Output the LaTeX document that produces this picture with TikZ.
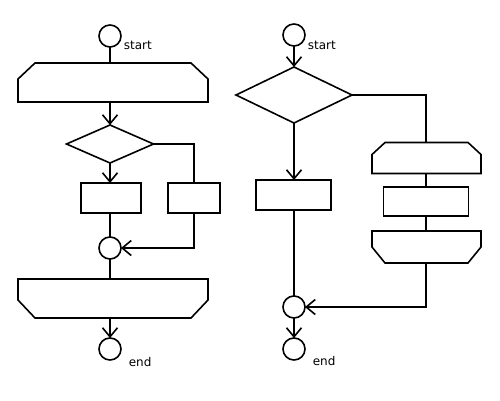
\documentclass[tikz,border=0pt]{standalone}
\usepackage{fontspec}
\setmainfont{DejaVu Sans}
\usetikzlibrary{arrows.meta,shapes.geometric}
\begin{document}
\begin{tikzpicture}[x=1pt,y=-1pt,
  every path/.style={line width=1.6pt},
  ln/.style={draw=black,line width=1.6pt},
  arr/.style={ln,-{Straight Barb[length=9pt,width=15pt]}},
  circ/.style={circle,draw,line width=1.6pt,minimum size=22pt,inner sep=0pt,outer sep=0pt},
  box/.style={rectangle,draw,line width=1.6pt,inner sep=0pt,outer sep=0pt},
  hexbox/.style={rectangle,draw=none,inner sep=0pt,outer sep=0pt},
  dia/.style={diamond,draw,line width=1.6pt,inner sep=0pt,outer sep=0pt},
  lbl/.style={font=\fontsize{12}{14}\selectfont,inner sep=0pt,anchor=base west}
]
\useasboundingbox (0,0) rectangle (500,400);

% ---- left flow ----
\node[circ] (Ls) at (110,36) {};
\node[lbl] (Lst) at (123,49) {start};
\node[hexbox,minimum width=190pt,minimum height=39pt] (Lloop) at (113,82.5) {};
\draw[ln] ([yshift=-16pt]Lloop.north west) -- ([xshift=17pt]Lloop.north west) -- ([xshift=-17pt]Lloop.north east) -- ([yshift=-16pt]Lloop.north east) -- (Lloop.south east) -- (Lloop.south west) -- cycle;
\node[dia,minimum width=87pt,minimum height=38pt,aspect=2.29] (Ld) at (110,144) {};
\node[box,minimum width=60pt,minimum height=30pt] (La) at (111,198) {};
\node[box,minimum width=52pt,minimum height=30pt] (Lb) at (194,198) {};
\node[circ] (Lm) at (110,248) {};
\node[hexbox,minimum width=190pt,minimum height=39pt] (Lend) at (113,298.5) {};
\draw[ln] (Lend.north west) -- (Lend.north east) -- ([yshift=18pt]Lend.south east) -- ([xshift=-17pt]Lend.south east) -- ([xshift=17pt]Lend.south west) -- ([yshift=18pt]Lend.south west) -- cycle;
\node[circ] (Le) at (110,349) {};
\node[lbl] (Let) at (128,366) {end};

\draw[ln] (Ls.south) -- (Ls.south|-Lloop.north);
\draw[arr] (Ls.south|-Lloop.south) -- (Ld.north);
\draw[arr] (Ld.south) -- (Ld.south|-La.north);
\draw[ln] (Ld.east) -| (Lb.north);
\draw[ln] (Lm.north|-La.south) -- (Lm.north);
\draw[arr] (Lb.south) |- (Lm.east);
\draw[ln] (Lm.south) -- (Lm.south|-Lend.north);
\draw[arr] (Lm.south|-Lend.south) -- (Le.north);

% ---- right flow ----
\node[circ] (Rs) at (294,35) {};
\node[lbl] (Rst) at (307,49) {start};
\node[dia,minimum width=116pt,minimum height=56pt,aspect=2.07] (Rd) at (294,95) {};
\node[box,minimum width=75pt,minimum height=30pt] (Ra) at (293.5,195) {};
\node[circ] (Rm) at (294,307) {};
\node[circ] (Re) at (294,349) {};
\node[lbl] (Ret) at (312,365) {end};
\node[hexbox,minimum width=109pt,minimum height=31pt] (Rt) at (426.5,158) {};
\draw[ln] ([yshift=-12pt]Rt.north west) -- ([xshift=13pt]Rt.north west) -- ([xshift=-13pt]Rt.north east) -- ([yshift=-12pt]Rt.north east) -- (Rt.south east) -- (Rt.south west) -- cycle;
\node[box,minimum width=85pt,minimum height=29pt] (Rb) at (426,201.5) {};
\node[hexbox,minimum width=109pt,minimum height=32pt] (Rbot) at (426.5,247) {};
\draw[ln] (Rbot.north west) -- (Rbot.north east) -- ([yshift=16pt]Rbot.south east) -- ([xshift=-13pt]Rbot.south east) -- ([xshift=13pt]Rbot.south west) -- ([yshift=16pt]Rbot.south west) -- cycle;

\draw[arr] (Rs.south) -- (Rd.north);
\draw[arr] (Rd.south) -- (Rd.south|-Ra.north);
\draw[ln] (Rm.north|-Ra.south) -- (Rm.north);
\draw[ln] (Rd.east) -| (Rb.north|-Rt.north);
\draw[ln] (Rb.north|-Rt.south) -- (Rb.north);
\draw[ln] (Rb.south) -- (Rb.south|-Rbot.north);
\draw[arr] (Rb.south|-Rbot.south) |- (Rm.east);
\draw[arr] (Rm.south) -- (Re.north);
\end{tikzpicture}
\end{document}
